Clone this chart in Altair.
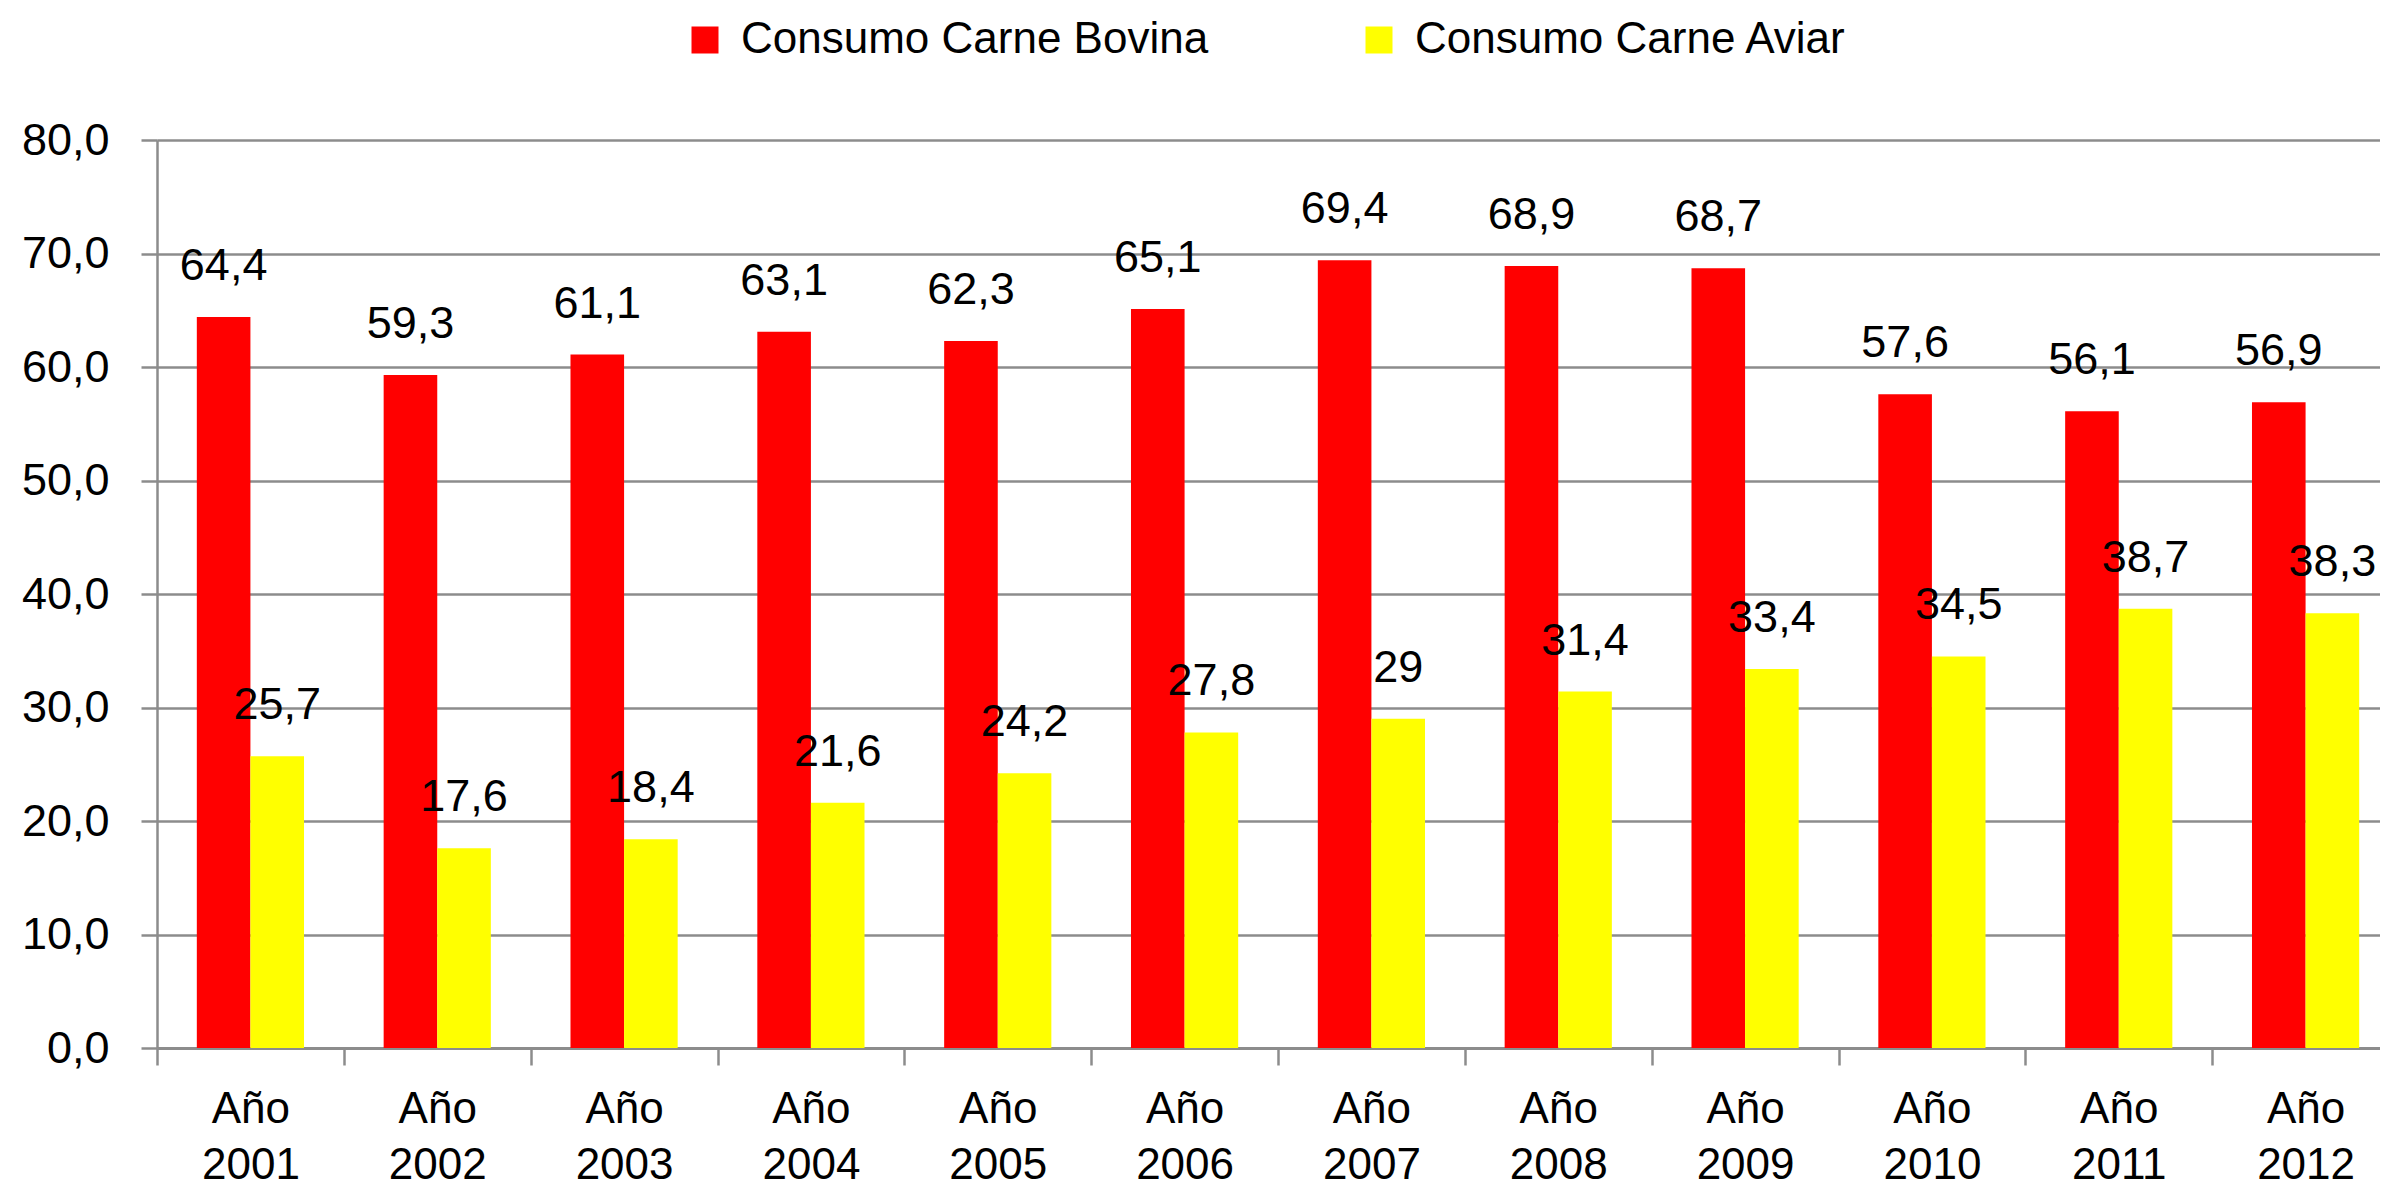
import altair as alt
import pandas as pd

anios = ["Año 2001", "Año 2002", "Año 2003", "Año 2004", "Año 2005", "Año 2006",
         "Año 2007", "Año 2008", "Año 2009", "Año 2010", "Año 2011", "Año 2012"]
bovina = [64.4, 59.3, 61.1, 63.1, 62.3, 65.1, 69.4, 68.9, 68.7, 57.6, 56.1, 56.9]
aviar = [25.7, 17.6, 18.4, 21.6, 24.2, 27.8, 29, 31.4, 33.4, 34.5, 38.7, 38.3]
series = ["Consumo Carne Bovina", "Consumo Carne Aviar"]
colores = ["#FF0000", "#FFFF00"]
y_ticks = [0, 10, 20, 30, 40, 50, 60, 70, 80]

rows = []
for a, b, c in zip(anios, bovina, aviar):
    rows.append({"anio": a, "serie": series[0], "valor": b})
    rows.append({"anio": a, "serie": series[1], "valor": c})
df = pd.DataFrame(rows)

FONT = "Liberation Sans"
FS = 45
GRAY = "#8c8c8c"

base = alt.Chart(df).transform_calculate(
    etiqueta="replace(toString(datum.valor), '.', ',')"
).encode(
    x=alt.X("anio:N", sort=anios, title=None,
            scale=alt.Scale(paddingInner=0, paddingOuter=0, range=[0, 2242]),
            axis=alt.Axis(labelAngle=0, labelFontSize=FS - 1, labelFont=FONT,
                          labelColor="black", labelExpr="split(datum.label, ' ')",
                          labelLineHeight=56, labelBaseline="top", labelPadding=22,
                          tickBand="extent", tickSize=17, tickColor=GRAY, tickWidth=2.5,
                          domainColor=GRAY, domainWidth=3, grid=False, labelLimit=0)),
    xOffset=alt.XOffset("serie:N", sort=series,
                        scale=alt.Scale(paddingOuter=0.743, paddingInner=0)),
    y=alt.Y("valor:Q", title=None,
            scale=alt.Scale(domain=[0, 80], nice=False, zero=True),
            axis=alt.Axis(values=y_ticks, labelExpr="replace(format(datum.value, '.1f'), '.', ',')",
                          labelFontSize=FS, labelFont=FONT, labelColor="black",
                          labelPadding=32, tickSize=16, tickColor=GRAY, tickWidth=2.5,
                          domainColor=GRAY, domainWidth=2.5,
                          grid=True, gridColor=GRAY, gridWidth=2.5)),
)

bars = base.mark_bar(size=53.6).encode(
    color=alt.Color("serie:N", sort=series,
                    scale=alt.Scale(domain=series, range=colores),
                    legend=alt.Legend(title=None, orient="none", legendX=526, legendY=-122,
                                      direction="horizontal", symbolType="square",
                                      symbolSize=729, symbolStrokeWidth=0,
                                      labelFontSize=FS - 1, labelFont=FONT, labelColor="black",
                                      labelOffset=14, columnPadding=148, padding=0,
                                      labelLimit=0))
)

labels = base.mark_text(baseline="alphabetic", dy=-37, fontSize=FS, font=FONT,
                        color="black").encode(text="etiqueta:N")

chart = alt.layer(bars, labels).properties(
    width=2223, height=908,
    autosize=alt.AutoSizeParams(type="none"),
    padding={"left": 149, "top": 132, "right": 0, "bottom": 143},
).configure_view(stroke=None).configure(background="white")

chart.save("out.html", embed_options={"renderer": "svg", "actions": False})
